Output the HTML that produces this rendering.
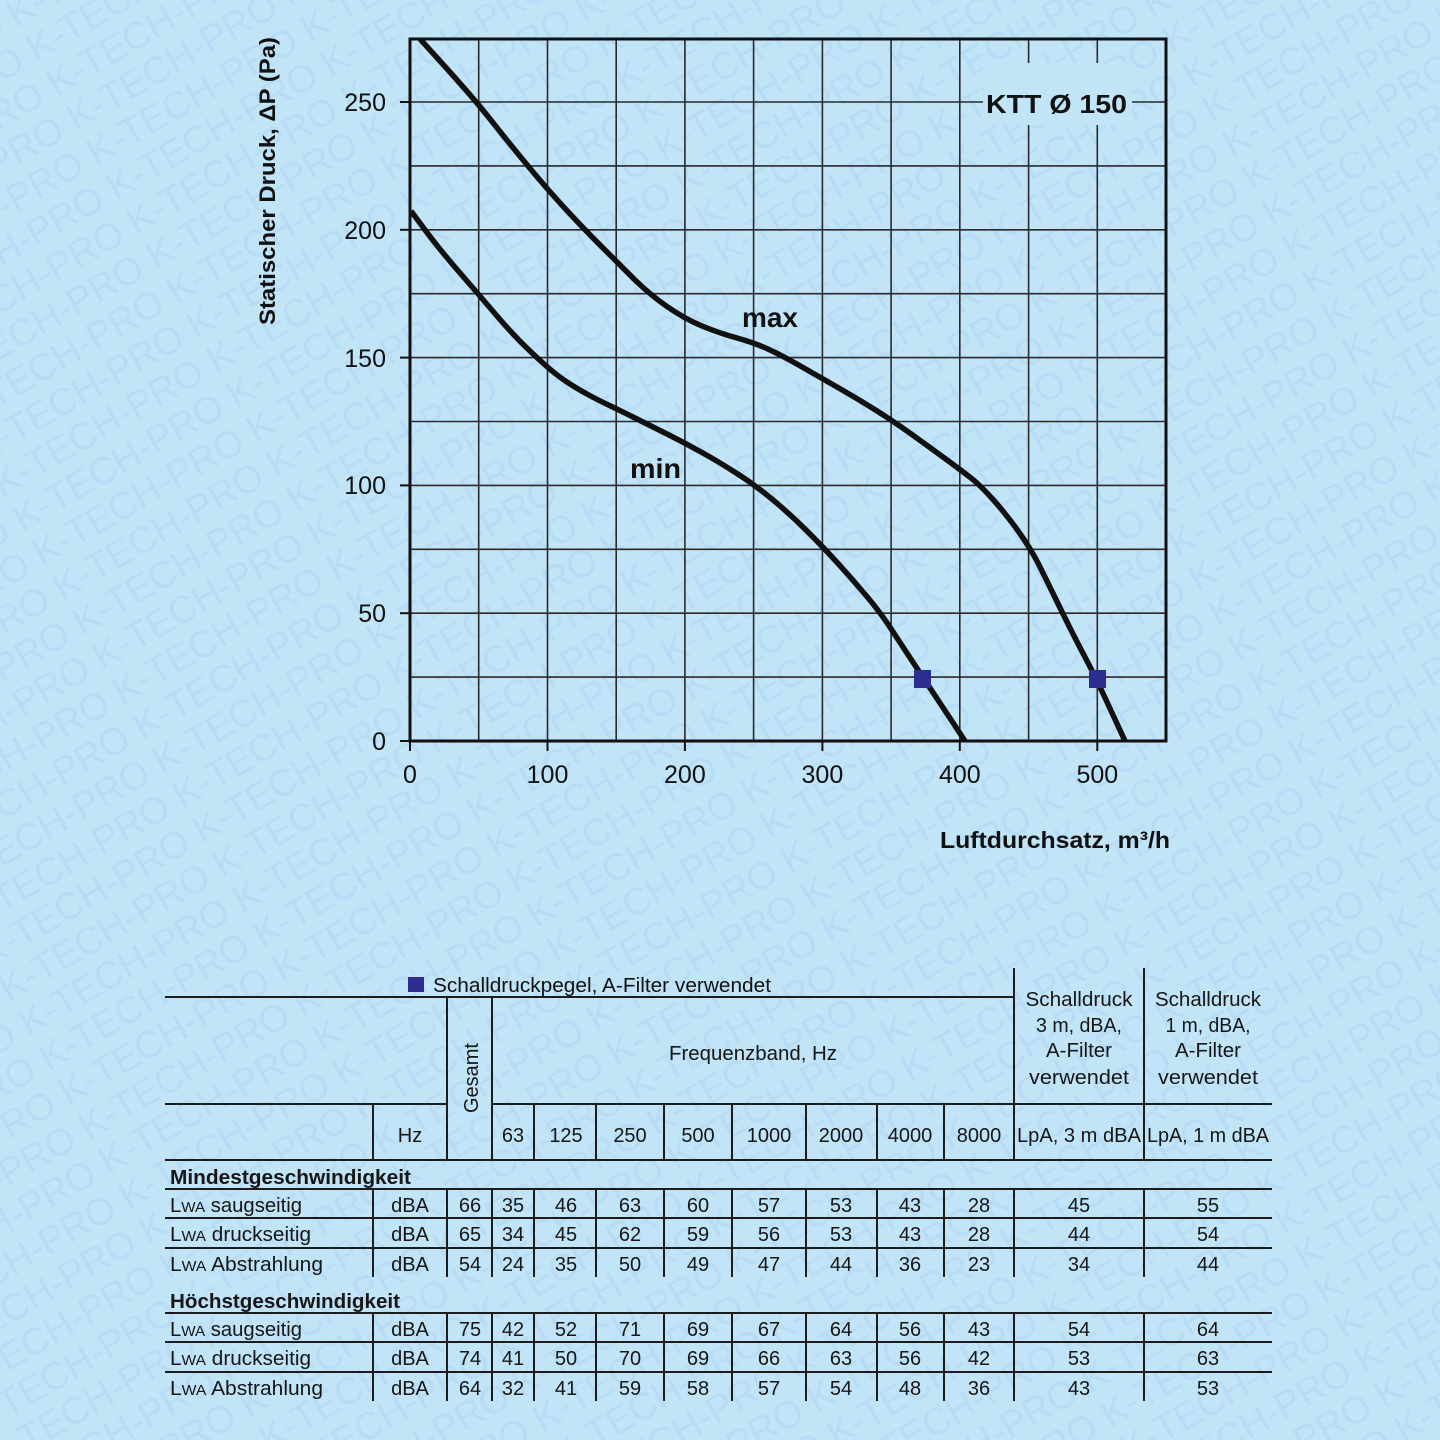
<!DOCTYPE html>
<html><head><meta charset="utf-8">
<style>
html,body{margin:0;padding:0;background:#c1e4f7;width:1440px;height:1440px;overflow:hidden;}
svg{display:block;overflow:hidden;}
text{font-family:"Liberation Sans",Arial,sans-serif;}
</style></head>
<body>
<svg width="1440" height="1440" viewBox="0 0 1440 1440" xmlns="http://www.w3.org/2000/svg">
<defs>
<pattern id="wm" patternUnits="userSpaceOnUse" width="247" height="40" patternTransform="rotate(-30)">
<text x="0" y="32" font-size="38" fill="#b8dcf5">K-TECH-PRO</text>
</pattern>
</defs>
<rect width="1440" height="1440" fill="#c1e4f7"/>
<rect width="1440" height="1440" fill="url(#wm)"/>

<!-- grid -->
<g stroke="#2a2a2a" stroke-width="1.6">
<line x1="478.7" y1="39" x2="478.7" y2="741"/>
<line x1="547.5" y1="39" x2="547.5" y2="741"/>
<line x1="616.2" y1="39" x2="616.2" y2="741"/>
<line x1="684.9" y1="39" x2="684.9" y2="741"/>
<line x1="753.6" y1="39" x2="753.6" y2="741"/>
<line x1="822.4" y1="39" x2="822.4" y2="741"/>
<line x1="891.1" y1="39" x2="891.1" y2="741"/>
<line x1="959.8" y1="39" x2="959.8" y2="741"/>
<line x1="1028.6" y1="39" x2="1028.6" y2="741"/>
<line x1="1097.3" y1="39" x2="1097.3" y2="741"/>
<line x1="410" y1="677.1" x2="1166" y2="677.1"/>
<line x1="410" y1="613.2" x2="1166" y2="613.2"/>
<line x1="410" y1="549.3" x2="1166" y2="549.3"/>
<line x1="410" y1="485.4" x2="1166" y2="485.4"/>
<line x1="410" y1="421.5" x2="1166" y2="421.5"/>
<line x1="410" y1="357.6" x2="1166" y2="357.6"/>
<line x1="410" y1="293.7" x2="1166" y2="293.7"/>
<line x1="410" y1="229.8" x2="1166" y2="229.8"/>
<line x1="410" y1="165.9" x2="1166" y2="165.9"/>
<line x1="410" y1="102" x2="1166" y2="102"/>
</g>
<!-- label background break -->
<rect x="983" y="63" width="149" height="62" fill="#c1e4f7"/>
<text x="986" y="113" font-size="26" font-weight="bold" fill="#111" textLength="141" lengthAdjust="spacingAndGlyphs">KTT Ø 150</text>

<!-- ticks -->
<g stroke="#111" stroke-width="2">
<line x1="400" y1="741" x2="410" y2="741"/>
<line x1="400" y1="613.2" x2="410" y2="613.2"/>
<line x1="400" y1="485.4" x2="410" y2="485.4"/>
<line x1="400" y1="357.6" x2="410" y2="357.6"/>
<line x1="400" y1="229.8" x2="410" y2="229.8"/>
<line x1="400" y1="102" x2="410" y2="102"/>
<line x1="410" y1="741" x2="410" y2="751"/>
<line x1="547.5" y1="741" x2="547.5" y2="751"/>
<line x1="684.9" y1="741" x2="684.9" y2="751"/>
<line x1="822.4" y1="741" x2="822.4" y2="751"/>
<line x1="959.8" y1="741" x2="959.8" y2="751"/>
<line x1="1097.3" y1="741" x2="1097.3" y2="751"/>
</g>
<!-- frame -->
<rect x="410" y="39" width="756" height="702" fill="none" stroke="#111" stroke-width="3"/>

<!-- curves -->
<g fill="none" stroke="#111" stroke-width="5.5" stroke-linejoin="round" stroke-linecap="butt">
<path d="M420,39 L435,55.5 Q450,72 464.5,88.5 Q479,105 496,126.5 Q513,148 530.5,169 Q548,190 565.5,209 Q583,228 600,245 Q617,262 633,278 Q649,294 667,306.5 Q685,319 702,326 Q719,333 737,338 Q755,343 769,349.5 Q783,356 803,367.5 Q823,379 840.5,389 Q858,399 875.5,410 Q893,421 910.5,433.5 Q928,446 945,458.5 Q962,471 971,478 Q980,485 993,499.5 Q1006,514 1018.5,531.5 Q1031,549 1039,565 Q1047,581 1054.5,596.5 Q1062,612 1070,628 Q1078,644 1086.5,660 Q1095,676 1110,708.5 L1125,741"/>
<path d="M411,211 L425.5,230.5 Q440,250 460,273 Q480,296 497,316 Q514,336 531,352 Q548,368 556.5,374.5 Q565,381 574,386.5 Q583,392 591.5,396.5 Q600,401 608.5,405 Q617,409 634,417.5 Q651,426 668,434.5 Q685,443 702,452.5 Q719,462 737,473.5 Q755,485 772.5,499.5 Q790,514 807,531 Q824,548 838.5,564 Q853,580 866.5,596 Q880,612 890.5,628 Q901,644 911.5,660 Q922,676 933,692.5 Q944,709 954.5,725 L965,741"/>
</g>
<rect x="914" y="670" width="17" height="18" fill="#2d2d8f"/>
<rect x="1089" y="670" width="17" height="18" fill="#2d2d8f"/>

<text x="742" y="327" font-size="28" font-weight="bold" fill="#111" textLength="56" lengthAdjust="spacingAndGlyphs">max</text>
<text x="630" y="478" font-size="28" font-weight="bold" fill="#111" textLength="51" lengthAdjust="spacingAndGlyphs">min</text>

<!-- axis labels -->
<g font-size="25" fill="#111" text-anchor="end">
<text x="386" y="750">0</text>
<text x="386" y="622">50</text>
<text x="386" y="494">100</text>
<text x="386" y="367">150</text>
<text x="386" y="239">200</text>
<text x="386" y="111">250</text>
</g>
<g font-size="25" fill="#111" text-anchor="middle">
<text x="410" y="783">0</text>
<text x="547.5" y="783">100</text>
<text x="684.9" y="783">200</text>
<text x="822.4" y="783">300</text>
<text x="959.8" y="783">400</text>
<text x="1097.3" y="783">500</text>
</g>
<text transform="translate(275,181) rotate(-90)" text-anchor="middle" font-size="22" font-weight="bold" fill="#111" textLength="288" lengthAdjust="spacingAndGlyphs">Statischer Druck, ΔP (Pa)</text>
<text x="940" y="848" font-size="23" font-weight="bold" fill="#111" textLength="230" lengthAdjust="spacingAndGlyphs">Luftdurchsatz, m³/h</text>

<!-- TABLE -->
<rect x="408" y="977" width="16" height="15" fill="#2d2d8f"/>
<text x="433" y="992" font-size="20" fill="#111" textLength="338" lengthAdjust="spacingAndGlyphs">Schalldruckpegel, A-Filter verwendet</text>

<g stroke="#1c1c1c" stroke-width="2">
<line x1="165" y1="997" x2="1014" y2="997"/>
<line x1="1014" y1="968" x2="1014" y2="1160"/>
<line x1="1144" y1="968" x2="1144" y2="1160"/>
<line x1="447" y1="997" x2="447" y2="1160"/>
<line x1="492" y1="997" x2="492" y2="1160"/>
<line x1="165" y1="1104" x2="447" y2="1104"/>
<line x1="492" y1="1104" x2="1272" y2="1104"/>
<line x1="373" y1="1104" x2="373" y2="1160"/>
<line x1="534" y1="1104" x2="534" y2="1160"/>
<line x1="596" y1="1104" x2="596" y2="1160"/>
<line x1="664" y1="1104" x2="664" y2="1160"/>
<line x1="732" y1="1104" x2="732" y2="1160"/>
<line x1="806" y1="1104" x2="806" y2="1160"/>
<line x1="877" y1="1104" x2="877" y2="1160"/>
<line x1="944" y1="1104" x2="944" y2="1160"/>
<line x1="165" y1="1160" x2="1272" y2="1160"/>
<line x1="165" y1="1189" x2="1272" y2="1189"/>
<line x1="165" y1="1218" x2="1272" y2="1218"/>
<line x1="165" y1="1248" x2="1272" y2="1248"/>
<line x1="373" y1="1189" x2="373" y2="1277"/>
<line x1="447" y1="1189" x2="447" y2="1277"/>
<line x1="492" y1="1189" x2="492" y2="1277"/>
<line x1="534" y1="1189" x2="534" y2="1277"/>
<line x1="596" y1="1189" x2="596" y2="1277"/>
<line x1="664" y1="1189" x2="664" y2="1277"/>
<line x1="732" y1="1189" x2="732" y2="1277"/>
<line x1="806" y1="1189" x2="806" y2="1277"/>
<line x1="877" y1="1189" x2="877" y2="1277"/>
<line x1="944" y1="1189" x2="944" y2="1277"/>
<line x1="1014" y1="1189" x2="1014" y2="1277"/>
<line x1="1144" y1="1189" x2="1144" y2="1277"/>
<line x1="165" y1="1313" x2="1272" y2="1313"/>
<line x1="165" y1="1342" x2="1272" y2="1342"/>
<line x1="165" y1="1372" x2="1272" y2="1372"/>
<line x1="373" y1="1313" x2="373" y2="1401"/>
<line x1="447" y1="1313" x2="447" y2="1401"/>
<line x1="492" y1="1313" x2="492" y2="1401"/>
<line x1="534" y1="1313" x2="534" y2="1401"/>
<line x1="596" y1="1313" x2="596" y2="1401"/>
<line x1="664" y1="1313" x2="664" y2="1401"/>
<line x1="732" y1="1313" x2="732" y2="1401"/>
<line x1="806" y1="1313" x2="806" y2="1401"/>
<line x1="877" y1="1313" x2="877" y2="1401"/>
<line x1="944" y1="1313" x2="944" y2="1401"/>
<line x1="1014" y1="1313" x2="1014" y2="1401"/>
<line x1="1144" y1="1313" x2="1144" y2="1401"/>
</g>

<g font-size="20" fill="#161616">
<text x="669" y="1060" textLength="168" lengthAdjust="spacingAndGlyphs">Frequenzband, Hz</text>
<text transform="translate(478,1078) rotate(-90)" text-anchor="middle" textLength="70" lengthAdjust="spacingAndGlyphs">Gesamt</text>
<text x="1079" y="1006" text-anchor="middle" textLength="107" lengthAdjust="spacingAndGlyphs">Schalldruck</text>
<text x="1079" y="1032" text-anchor="middle" textLength="86" lengthAdjust="spacingAndGlyphs">3 m, dBA,</text>
<text x="1079" y="1057" text-anchor="middle" textLength="66" lengthAdjust="spacingAndGlyphs">A-Filter</text>
<text x="1079" y="1084" text-anchor="middle" textLength="100" lengthAdjust="spacingAndGlyphs">verwendet</text>
<text x="1208" y="1006" text-anchor="middle" textLength="106" lengthAdjust="spacingAndGlyphs">Schalldruck</text>
<text x="1208" y="1032" text-anchor="middle" textLength="85" lengthAdjust="spacingAndGlyphs">1 m, dBA,</text>
<text x="1208" y="1057" text-anchor="middle" textLength="66" lengthAdjust="spacingAndGlyphs">A-Filter</text>
<text x="1208" y="1084" text-anchor="middle" textLength="100" lengthAdjust="spacingAndGlyphs">verwendet</text>
</g>
<g font-size="20" fill="#161616" text-anchor="middle">
<text x="410" y="1142">Hz</text>
<text x="513" y="1142">63</text>
<text x="566" y="1142">125</text>
<text x="630" y="1142">250</text>
<text x="698" y="1142">500</text>
<text x="769" y="1142">1000</text>
<text x="841" y="1142">2000</text>
<text x="910" y="1142">4000</text>
<text x="979" y="1142">8000</text>
<text x="1079" y="1142" textLength="124" lengthAdjust="spacingAndGlyphs">LpA, 3 m dBA</text>
<text x="1208" y="1142" textLength="122" lengthAdjust="spacingAndGlyphs">LpA, 1 m dBA</text>
</g>

<text x="170" y="1184" font-size="20" font-weight="bold" fill="#161616" textLength="241" lengthAdjust="spacingAndGlyphs">Mindestgeschwindigkeit</text>
<text x="170" y="1308" font-size="20" font-weight="bold" fill="#161616" textLength="230" lengthAdjust="spacingAndGlyphs">Höchstgeschwindigkeit</text>

<g font-size="20" fill="#161616">
<text x="170" y="1212" textLength="132" lengthAdjust="spacingAndGlyphs">L<tspan font-size="15">WA</tspan> saugseitig</text>
<text x="170" y="1241" textLength="141" lengthAdjust="spacingAndGlyphs">L<tspan font-size="15">WA</tspan> druckseitig</text>
<text x="170" y="1271" textLength="153" lengthAdjust="spacingAndGlyphs">L<tspan font-size="15">WA</tspan> Abstrahlung</text>
<text x="170" y="1336" textLength="132" lengthAdjust="spacingAndGlyphs">L<tspan font-size="15">WA</tspan> saugseitig</text>
<text x="170" y="1365" textLength="141" lengthAdjust="spacingAndGlyphs">L<tspan font-size="15">WA</tspan> druckseitig</text>
<text x="170" y="1395" textLength="153" lengthAdjust="spacingAndGlyphs">L<tspan font-size="15">WA</tspan> Abstrahlung</text>
</g>

<g font-size="20" fill="#161616" text-anchor="middle">
<text x="410" y="1212">dBA</text><text x="470" y="1212">66</text><text x="513" y="1212">35</text><text x="566" y="1212">46</text><text x="630" y="1212">63</text><text x="698" y="1212">60</text><text x="769" y="1212">57</text><text x="841" y="1212">53</text><text x="910" y="1212">43</text><text x="979" y="1212">28</text><text x="1079" y="1212">45</text><text x="1208" y="1212">55</text>
<text x="410" y="1241">dBA</text><text x="470" y="1241">65</text><text x="513" y="1241">34</text><text x="566" y="1241">45</text><text x="630" y="1241">62</text><text x="698" y="1241">59</text><text x="769" y="1241">56</text><text x="841" y="1241">53</text><text x="910" y="1241">43</text><text x="979" y="1241">28</text><text x="1079" y="1241">44</text><text x="1208" y="1241">54</text>
<text x="410" y="1271">dBA</text><text x="470" y="1271">54</text><text x="513" y="1271">24</text><text x="566" y="1271">35</text><text x="630" y="1271">50</text><text x="698" y="1271">49</text><text x="769" y="1271">47</text><text x="841" y="1271">44</text><text x="910" y="1271">36</text><text x="979" y="1271">23</text><text x="1079" y="1271">34</text><text x="1208" y="1271">44</text>
<text x="410" y="1336">dBA</text><text x="470" y="1336">75</text><text x="513" y="1336">42</text><text x="566" y="1336">52</text><text x="630" y="1336">71</text><text x="698" y="1336">69</text><text x="769" y="1336">67</text><text x="841" y="1336">64</text><text x="910" y="1336">56</text><text x="979" y="1336">43</text><text x="1079" y="1336">54</text><text x="1208" y="1336">64</text>
<text x="410" y="1365">dBA</text><text x="470" y="1365">74</text><text x="513" y="1365">41</text><text x="566" y="1365">50</text><text x="630" y="1365">70</text><text x="698" y="1365">69</text><text x="769" y="1365">66</text><text x="841" y="1365">63</text><text x="910" y="1365">56</text><text x="979" y="1365">42</text><text x="1079" y="1365">53</text><text x="1208" y="1365">63</text>
<text x="410" y="1395">dBA</text><text x="470" y="1395">64</text><text x="513" y="1395">32</text><text x="566" y="1395">41</text><text x="630" y="1395">59</text><text x="698" y="1395">58</text><text x="769" y="1395">57</text><text x="841" y="1395">54</text><text x="910" y="1395">48</text><text x="979" y="1395">36</text><text x="1079" y="1395">43</text><text x="1208" y="1395">53</text>
</g>
</svg>
</body></html>
